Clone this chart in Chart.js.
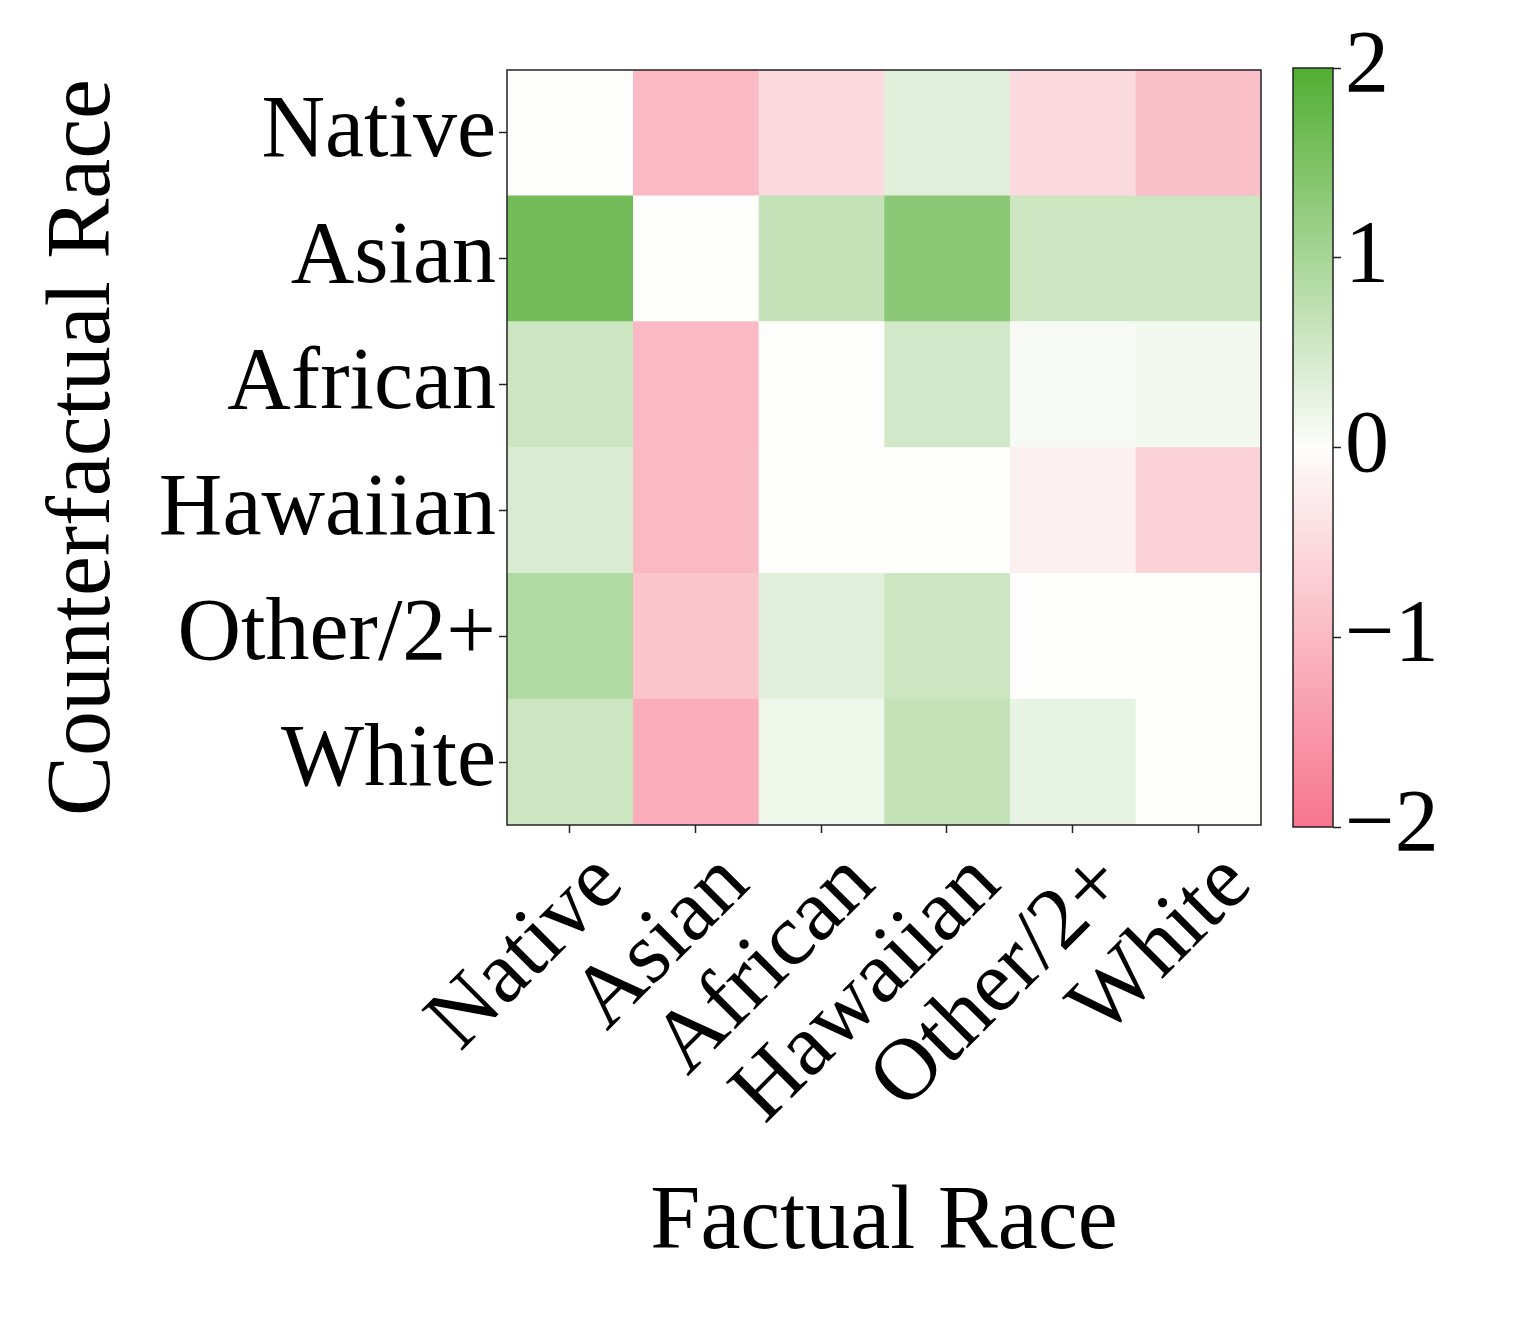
<!DOCTYPE html>
<html>
<head>
<meta charset="utf-8">
<script src="https://cdn.jsdelivr.net/npm/chart.js@4.4.1/dist/chart.umd.min.js"></script>
<style>
  html, body { margin: 0; padding: 0; background: #fff; }
  #wrap { position: relative; width: 1522px; height: 1328px; }
  #heat { position: absolute; left: 0; top: 0; }
  #cbar { position: absolute; left: 1233px; top: 0; }
</style>
</head>
<body>
<div id="wrap">
  <canvas id="heat" width="1522" height="1328"></canvas>
  <canvas id="cbar" width="289" height="1328"></canvas>
</div>
<script>
// columns = factual race, rows = counterfactual race
const factual = ["Native", "Asian", "African", "Hawaiian", "Other/2+", "White"];
const counterfactual = ["Native", "Asian", "African", "Hawaiian", "Other/2+", "White"];

const rowNative   = [0.00, -1.00, -0.51, 0.32, -0.51, -0.91];
const rowAsian    = [1.62,  0.00,  0.68, 1.33,  0.58,  0.58];
const rowAfrican  = [0.58, -1.00,  0.00, 0.51,  0.07,  0.12];
const rowHawaiian = [0.42, -0.99,  0.00, 0.00, -0.20, -0.63];
const rowOther    = [0.89, -0.83,  0.32, 0.58,  0.00,  0.00];
const rowWhite    = [0.58, -1.16,  0.16, 0.68,  0.24,  0.00];
const cells = [rowNative, rowAsian, rowAfrican, rowHawaiian, rowOther, rowWhite];

const cbarTicks = [-2, -1, 0, 1, 2];

const FONT = "'Liberation Serif', 'Times New Roman', serif";
const SIZE = 88;

// pink -> white -> green
const cmap = [
  [-2, [247, 117, 140]],
  [0, [253, 253, 251]],
  [2, [82, 174, 51]],
];

function colorFor(v) {
  v = Math.max(-2, Math.min(2, v));
  let i = v <= 0 ? 0 : 1;
  const [v0, c0] = cmap[i];
  const [v1, c1] = cmap[i + 1];
  const t = (v - v0) / (v1 - v0);
  const c = c0.map((a, k) => Math.round(a + (c1[k] - a) * t));
  return `rgb(${c[0]},${c[1]},${c[2]})`;
}

const frame = {
  id: "frame",
  afterDraw(chart) {
    const { ctx, chartArea: a } = chart;
    ctx.save();
    ctx.strokeStyle = "#222";
    ctx.lineWidth = 1.5;
    ctx.strokeRect(a.left, a.top, a.width, a.height);
    ctx.restore();
  },
};

new Chart(document.getElementById("heat"), {
  type: "bar",
  data: {
    labels: counterfactual,
    datasets: factual.map((f, c) => ({
      label: f,
      data: counterfactual.map(() => [c - 0.5, c + 0.5]),
      backgroundColor: cells.map((row) => colorFor(row[c])),
      borderWidth: 0,
      grouped: false,
      barPercentage: 1,
      categoryPercentage: 1,
    })),
  },
  options: {
    indexAxis: "y",
    responsive: false,
    animation: false,
    layout: { padding: { top: 70, right: 261, bottom: 0, left: 0 } },
    plugins: { legend: { display: false }, tooltip: { enabled: false } },
    scales: {
      x: {
        type: "linear",
        min: -0.5,
        max: 5.5,
        afterBuildTicks: (s) => {
          s.ticks = factual.map((_, i) => ({ value: i }));
        },
        afterFit: (s) => {
          s.height = 1328 - 825;
        },
        ticks: {
          autoSkip: false,
          minRotation: 45,
          maxRotation: 45,
          padding: 0,
          labelOffset: 40,
          color: "#000",
          font: { family: FONT, size: SIZE },
          callback: (v) => factual[v],
        },
        grid: { drawOnChartArea: false, tickLength: 8, tickWidth: 1.5, color: "#222" },
        border: { display: false },
        title: {
          display: true,
          text: "Factual Race",
          color: "#000",
          font: { family: FONT, size: 90 },
          padding: { top: 0, bottom: 50 },
        },
      },
      y: {
        type: "category",
        offset: true,
        afterFit: (s) => {
          s.width = 507;
        },
        ticks: {
          padding: 3,
          color: "#000",
          font: { family: FONT, size: SIZE },
        },
        grid: { offset: false, drawOnChartArea: false, tickLength: 8, tickWidth: 1.5, color: "#222" },
        border: { display: false },
        title: {
          display: true,
          text: "Counterfactual Race",
          color: "#000",
          font: { family: FONT, size: 90 },
          padding: { top: 31, bottom: 0 },
        },
      },
    },
  },
  plugins: [frame],
});

// colorbar
new Chart(document.getElementById("cbar"), {
  type: "bar",
  data: {
    labels: [""],
    datasets: [{
      data: [[cbarTicks[0], cbarTicks[cbarTicks.length - 1]]],
      borderWidth: 0,
      barPercentage: 1,
      categoryPercentage: 1,
      backgroundColor: (ctx) => {
        const chart = ctx.chart;
        if (!chart.chartArea) return null;
        const y = chart.scales.y;
        const g = chart.ctx.createLinearGradient(0, y.getPixelForValue(-2), 0, y.getPixelForValue(2));
        cmap.forEach(([v, c]) => g.addColorStop((v + 2) / 4, `rgb(${c[0]},${c[1]},${c[2]})`));
        return g;
      },
    }],
  },
  options: {
    responsive: false,
    animation: false,
    layout: { padding: { top: 68, right: 0, bottom: 1328 - 827, left: 60 } },
    plugins: { legend: { display: false }, tooltip: { enabled: false } },
    scales: {
      x: { display: false },
      y: {
        position: "right",
        min: -2,
        max: 2,
        afterBuildTicks: (s) => {
          s.ticks = cbarTicks.map((v) => ({ value: v }));
        },
        afterFit: (s) => {
          s.width = 289 - 60 - 40;
        },
        ticks: {
          padding: 4,
          color: "#000",
          font: { family: FONT, size: SIZE },
          callback: (v) => (v < 0 ? "\u2212" + Math.abs(v) : String(v)),
        },
        grid: { drawOnChartArea: false, tickLength: 8, tickWidth: 1.5, color: "#222" },
        border: { display: false },
      },
    },
  },
  plugins: [frame],
});
</script>
</body>
</html>
